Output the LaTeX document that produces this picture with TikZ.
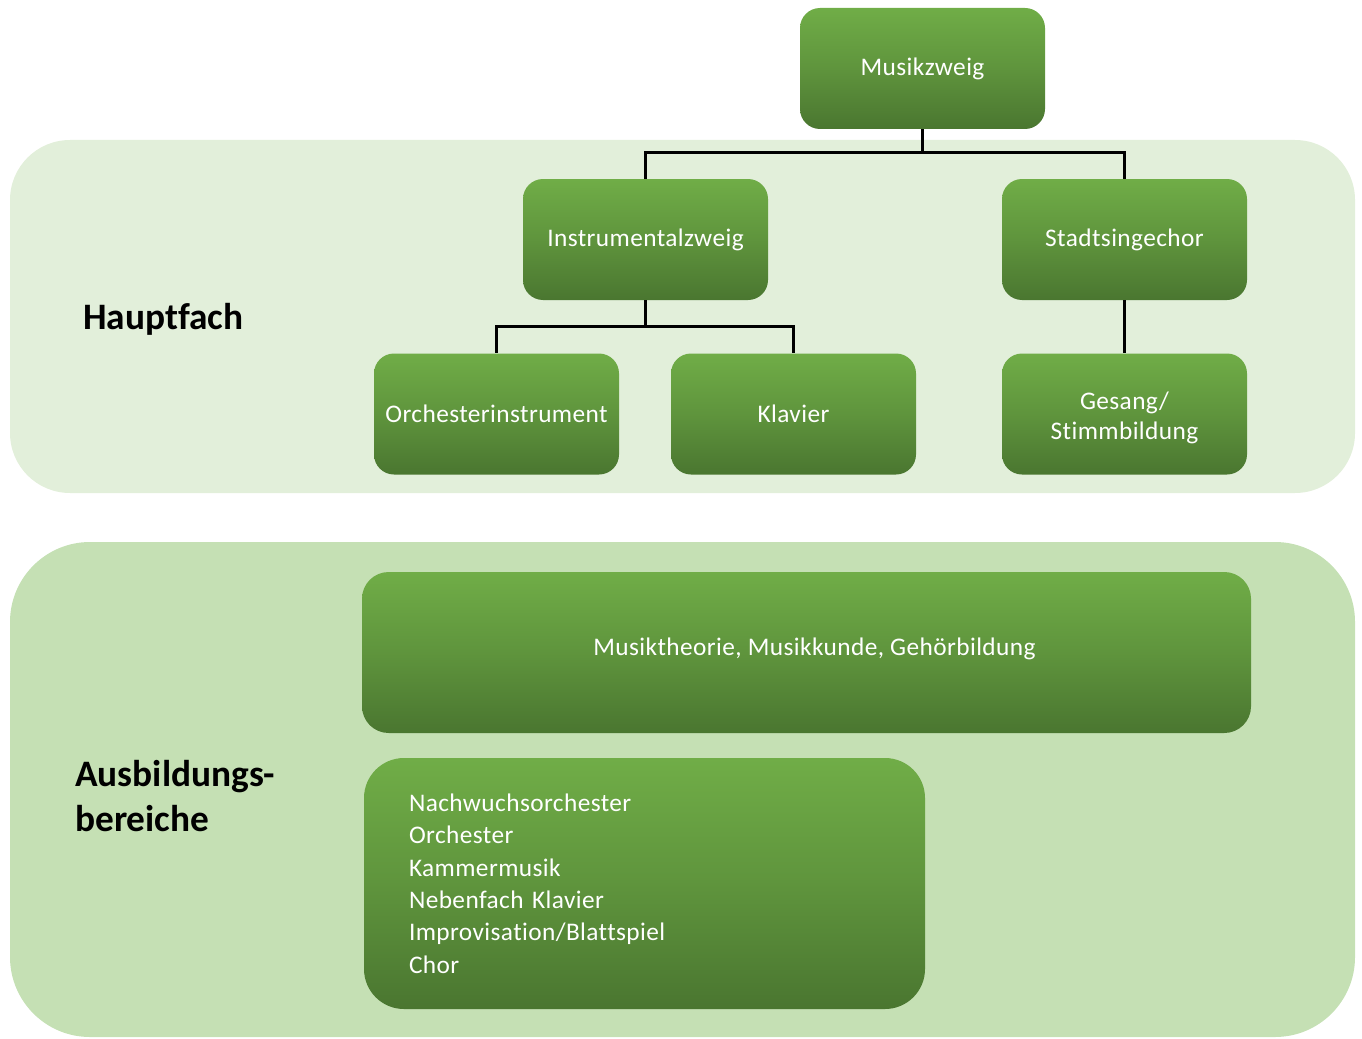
\documentclass[tikz,border=0pt]{standalone}
\usepackage{fontspec}
\setmainfont{Carlito}[Ligatures=NoCommon]
\newfontfamily\boxfont{Carlito}[LetterSpace=1.6,Ligatures=NoCommon]
\definecolor{gtop}{RGB}{112,173,71}
\definecolor{gbot}{RGB}{74,118,48}
\definecolor{panelA}{RGB}{226,239,218}
\definecolor{panelB}{RGB}{197,224,180}
\begin{document}
\begin{tikzpicture}[x=0.75pt,y=-0.75pt,
  gbox/.style={rounded corners=15pt, top color=gtop, bottom color=gbot, middle color=gtop!55!gbot,
    draw=none, text=white, font=\boxfont\fontsize{19}{22.5}\selectfont, align=center,
    minimum width=183.75pt, minimum height=90.75pt, inner sep=0pt},
  conn/.style={line width=1.9pt, black},
  sectlabel/.style={font=\bfseries\fontsize{28}{34}\selectfont, anchor=west, align=left, inner sep=0pt}]
\useasboundingbox (0,0) rectangle (1362,1038);
% panels
\fill[panelA, rounded corners=45pt] (10,140) rectangle (1355,493);
\fill[panelB, rounded corners=60pt] (10,542) rectangle (1355,1037);
\node[sectlabel] (haupt) at (83,319) {Hauptfach};
\node[sectlabel] (ausb) at (75,796) {Ausbildungs-\\bereiche};
% boxes
\node[gbox] (musik) at (922.5,68.5) {Musikzweig};
\node[gbox] (instr) at (645.5,239.5) {Instrumentalzweig};
\node[gbox] (stadt) at (1124.5,239.5) {Stadtsingechor};
\node[gbox] (orch) at (496.5,414) {Orchesterinstrument};
\node[gbox] (klav) at (793.5,414) {Klavier};
\node[gbox, text height=40pt, text depth=1.5pt] (ges) at (1124.5,414) {Gesang/\\Stimmbildung};
\node[gbox, rounded corners=20pt, minimum width=666.75pt, minimum height=120.75pt, text height=14pt, text depth=10pt] (theo) at (806.5,652.5) {\hspace*{12pt}Musiktheorie, Musikkunde, Gehörbildung};
\node[gbox, rounded corners=30pt, minimum width=420.75pt, minimum height=188.25pt, align=left, text width=353.25pt, font=\boxfont\fontsize{19}{24.3}\selectfont] (list) at (644.5,883.5) {Nachwuchsorchester\\Orchester\\Kammermusik\\Nebenfach Klavier\\Improvisation/Blattspiel\\Chor};
% connectors
\draw[conn] (musik.south) -- ++(0,23) -| (instr.north);
\draw[conn] (musik.south) -- ++(0,23) -| (stadt.north);
\draw[conn] (instr.south) -- ++(0,26) -| (orch.north);
\draw[conn] (instr.south) -- ++(0,26) -| (klav.north);
\draw[conn] (stadt.south) -- (ges.north);
\end{tikzpicture}
\end{document}
